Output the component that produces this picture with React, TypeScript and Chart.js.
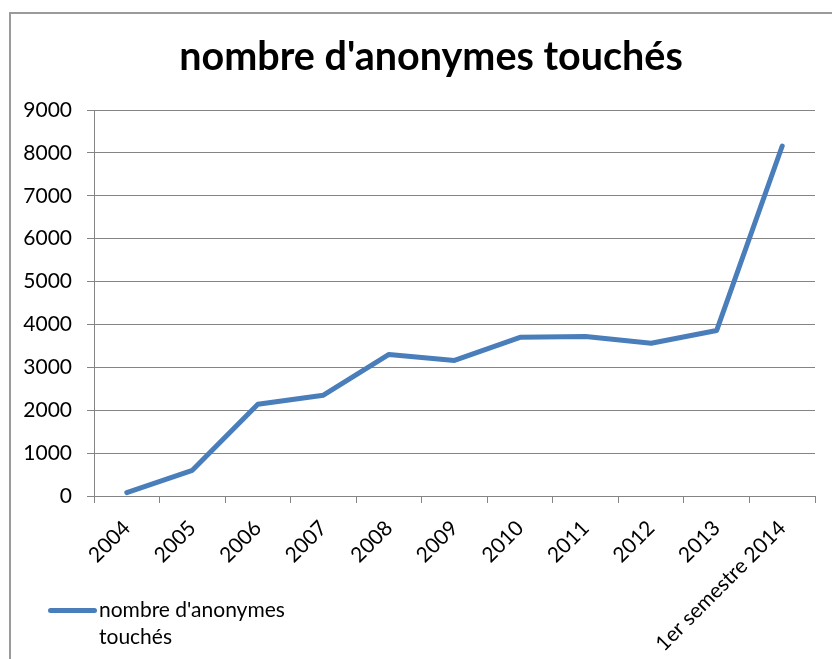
import React, { useEffect, useRef } from "react";
import { Chart, registerables } from "chart.js";

Chart.register(...registerables);

const categories: string[] = [
  "2004", "2005", "2006", "2007", "2008", "2009",
  "2010", "2011", "2012", "2013", "1er semestre 2014",
];
const seriesName = "nombre d'anonymes touchés";
const seriesValues: number[] = [80, 600, 2140, 2350, 3300, 3160, 3700, 3720, 3560, 3860, 8160];
const yTicks: number[] = [0, 1000, 2000, 3000, 4000, 5000, 6000, 7000, 8000, 9000];
const chartTitle = "nombre d'anonymes touchés";

const LINE_COLOR = "#4A7EBB";
const GRID_COLOR = "#848484";

export default function App() {
  const canvasRef = useRef<HTMLCanvasElement | null>(null);

  useEffect(() => {
    const canvas = canvasRef.current;
    if (!canvas) return;
    const chart = new Chart(canvas, {
      type: "line",
      data: {
        labels: categories,
        datasets: [
          {
            label: seriesName,
            data: seriesValues,
            borderColor: LINE_COLOR,
            backgroundColor: LINE_COLOR,
            borderWidth: 5,
            pointRadius: 0,
            pointHoverRadius: 0,
            tension: 0,
            borderCapStyle: "round",
            borderJoinStyle: "round",
            fill: false,
          },
        ],
      },
      options: {
        responsive: false,
        animation: false,
        devicePixelRatio: 1,
        layout: { padding: { left: 0, top: 110, right: 17, bottom: 0 } },
        plugins: {
          legend: { display: false },
          title: { display: false },
          tooltip: { enabled: false },
        },
        scales: {
          x: {
            type: "category",
            offset: true,
            grid: {
              display: true,
              drawOnChartArea: false,
              drawTicks: true,
              tickLength: 7,
              offset: true,
              color: GRID_COLOR,
              lineWidth: 1,
            },
            border: { display: true, color: GRID_COLOR, width: 1 },
            ticks: {
              autoSkip: false,
              minRotation: 45,
              maxRotation: 45,
              padding: 20,
              color: "#000",
              font: { family: "Lato", size: 21, lineHeight: 0.2 },
            },
            afterFit: (s: any) => {
              s.height = 163;
            },
          },
          y: {
            min: 0,
            max: 9000,
            afterBuildTicks: (s: any) => {
              s.ticks = yTicks.map((v) => ({ value: v }));
            },
            grid: {
              display: true,
              drawOnChartArea: true,
              drawTicks: true,
              tickLength: 7,
              color: GRID_COLOR,
              lineWidth: 1,
            },
            border: { display: true, color: GRID_COLOR, width: 1 },
            ticks: {
              padding: 15,
              color: "#000",
              font: { family: "Lato", size: 21 },
              callback: (v: any) => String(v),
            },
            afterFit: (s: any) => {
              s.width = 94;
            },
          },
        },
      },
    });
    return () => chart.destroy();
  }, []);

  return (
    <div
      style={{
        position: "absolute",
        left: 0,
        top: 0,
        width: 832,
        height: 659,
        overflow: "hidden",
        background: "#fff",
      }}
    >
      <div
        style={{
          position: "absolute",
          left: 9,
          top: 12,
          width: 900,
          height: 700,
          border: "2px solid #9a9a9a",
          boxSizing: "border-box",
        }}
      />
      <canvas
        ref={canvasRef}
        width={832}
        height={659}
        style={{ position: "absolute", left: 0, top: 0, width: 832, height: 659 }}
      />
      <div
        style={{
          position: "absolute",
          left: 431,
          top: 35,
          transform: "translateX(-50%)",
          whiteSpace: "nowrap",
          fontFamily: "Lato",
          fontWeight: 700,
          fontSize: 39.5,
          lineHeight: 1,
          color: "#000",
        }}
      >
        {chartTitle}
      </div>
      <div
        style={{
          position: "absolute",
          left: 48,
          top: 608,
          width: 49,
          height: 5,
          borderRadius: 3,
          background: LINE_COLOR,
        }}
      />
      <div
        style={{
          position: "absolute",
          left: 99,
          top: 596,
          width: 215,
          fontFamily: "Lato",
          fontSize: 21,
          lineHeight: "26.5px",
          color: "#000",
        }}
      >
        {seriesName}
      </div>
    </div>
  );
}
